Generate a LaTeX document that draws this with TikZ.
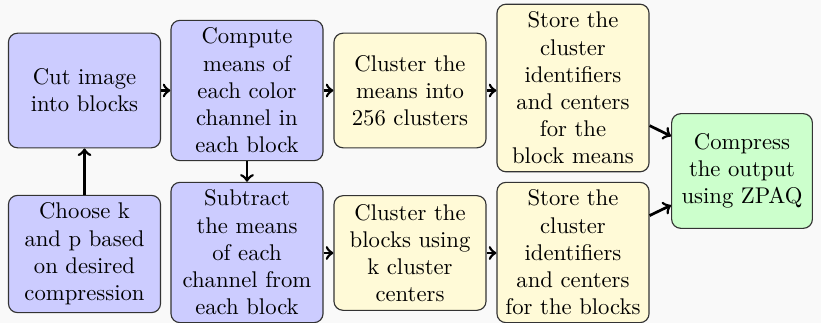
\documentclass[tikz,border=0pt]{standalone}
\definecolor{bgc}{RGB}{249,249,249}
\definecolor{bluef}{RGB}{204,204,255}
\definecolor{yelf}{RGB}{255,250,215}
\definecolor{grnf}{RGB}{204,255,204}
\begin{document}
\begin{tikzpicture}[x=0.4405pt,y=-0.4405pt,
  box/.style={draw=black!80, rounded corners=4pt, align=center, inner sep=3.33pt,
    minimum width=67pt, minimum height=50.5pt, line width=0.5pt},
  bluebox/.style={box, fill=bluef},
  yelbox/.style={box, fill=yelf},
  grnbox/.style={box, fill=grnf, minimum width=62pt},
  arr/.style={->, line width=1.2pt, black}]
\fill[bgc] (0,0) rectangle (821,323);
\useasboundingbox (0,0) rectangle (821,323);
\node[bluebox] (cut) at (84.5,90.5) {Cut image\\into blocks};
\node[bluebox] (means) at (247,90.5) {Compute\\means of\\each color\\channel in\\each block};
\node[yelbox] (clm) at (410,90.5) {Cluster the\\means into\\256 clusters};
\node[yelbox] (stm) at (573,88) {Store the\\cluster\\identifiers\\and centers\\for the\\block means};
\node[bluebox] (choose) at (84.5,254) {Choose k\\and p based\\on desired\\compression};
\node[bluebox] (sub) at (247,252.5) {Subtract\\the means\\of each\\channel from\\each block};
\node[yelbox] (clb) at (410,253) {Cluster the\\blocks using\\k cluster\\centers};
\node[yelbox] (stb) at (573,252.5) {Store the\\cluster\\identifiers\\and centers\\for the blocks};
\node[grnbox] (zpaq) at (742,171) {Compress\\the output\\using ZPAQ};
\draw[arr] (cut) -- (means);
\draw[arr] (means) -- (clm);
\draw[arr] (clm) -- (clm -| stm.west);
\draw[arr] (stm) -- (zpaq);
\draw[arr] (choose) -- (cut);
\draw[arr] (means) -- (sub);
\draw[arr] (sub.east |- clb) -- (clb);
\draw[arr] (clb) -- (stb.west |- clb);
\draw[arr] (stb) -- (zpaq);
\end{tikzpicture}
\end{document}
